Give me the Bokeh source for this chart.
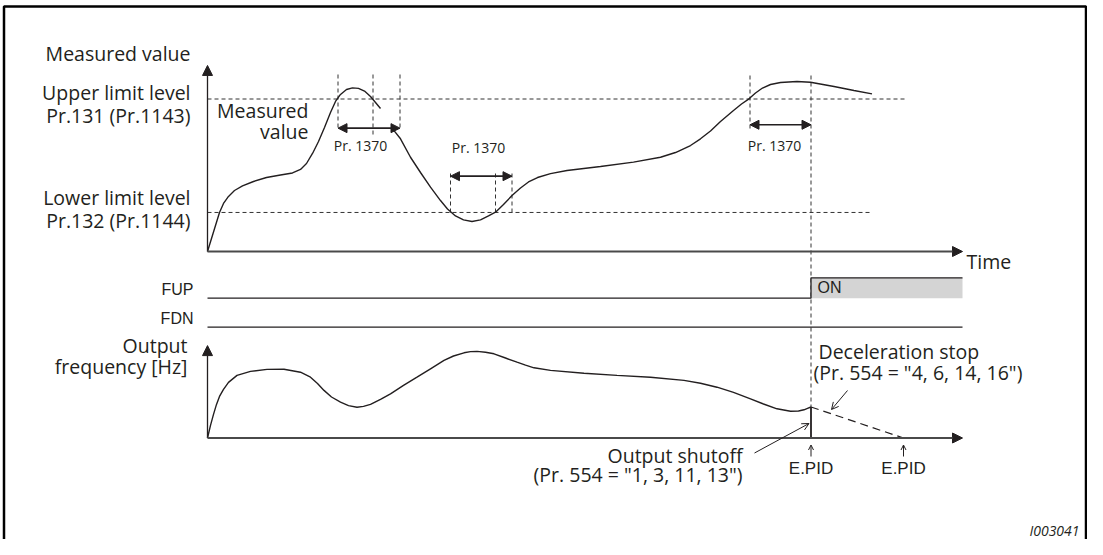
from bokeh.plotting import figure
from bokeh.models import Range1d, Arrow, NormalHead, OpenHead
from bokeh.core.properties import value
from bokeh.embed import file_html
from bokeh.resources import INLINE

NaN = float("nan")

# ---------------- data ----------------
# measured value (time units, % of scale); NaN = gap behind the Pr.1370 arrow
t_meas = [0, 0.8, 1.6, 2.4, 3.2, 4.2, 5.4, 7.0, 9.2, 11.8,
          14.6, 17.0, 18.6, 19.8, 21.0, 22.2, 23.4, 24.6, 25.6, 26.6,
          27.8, 29.0, 30.2, 31.4, 32.6, 33.6, 34.6, NaN,
          37.3, 38.6, 40.6, 42.6, 44.6, 46.6, 48.0, 49.6, 51.2, 52.9,
          54.6, 56.2, 57.6, 59.2, 60.9, 62.6, 64.2, 66.0, 68.6, 71.9,
          78.6, 85.2, 90.6, 93.6, 96.6, 98.6, 100.6, 102.6, 105.2, 106.8,
          108.3, 109.6, 111.0, 112.6, 114.6, 117.9, 120.6, 125.3, 129.3, 132.9]
v_meas = [0, 8.5, 17.0, 25.6, 31.5, 36.1, 40.0, 43.0, 45.9, 48.5,
          50.2, 51.5, 53.8, 57.7, 64.3, 72.1, 81.3, 91.1, 98.4, 103.0,
          106.2, 107.3, 107.0, 105.2, 101.6, 97.7, 93.8, NaN,
          79.3, 73.9, 61.8, 51.8, 42.2, 33.4, 27.9, 23.3, 20.7, 19.7,
          20.7, 23.3, 25.8, 30.8, 36.7, 41.6, 45.6, 48.5, 51.1, 53.1,
          55.7, 58.6, 61.8, 64.9, 69.5, 73.9, 79.0, 85.2, 92.5, 96.7,
          100.1, 103.9, 107.2, 109.5, 110.8, 111.5, 111.0, 108.2, 105.6, 103.4]

# output frequency [Hz]
t_freq = [0, 0.6, 1.2, 1.8, 2.4, 3.2, 4.2, 5.9, 8.6, 11.9,
          15.3, 18.6, 20.6, 22.0, 23.3, 24.8, 26.6, 28.2, 29.9, 31.2,
          32.6, 34.6, 36.6, 39.2, 41.9, 44.6, 47.3, 49.2, 51.3, 52.6,
          53.9, 55.6, 57.3, 59.6, 61.9, 63.6, 65.3, 68.6, 75.3, 81.9,
          88.6, 95.3, 98.6, 101.9, 105.2, 108.6, 111.2, 113.9, 116.6, 118.2,
          119.3, 120.0, 120.7]
f_freq = [0, 6.3, 11.8, 16.8, 20.8, 24.3, 27.8, 31.3, 33.3, 34.3,
          34.4, 32.9, 30.4, 27.3, 23.8, 20.5, 17.9, 16.2, 15.4, 15.8,
          16.8, 19.3, 22.1, 26.3, 30.4, 34.6, 38.8, 41.0, 42.6, 43.2,
          43.3, 42.9, 42.1, 40.0, 37.9, 36.4, 35.1, 33.8, 32.4, 31.3,
          30.4, 28.8, 27.4, 25.4, 22.8, 19.6, 17.0, 14.6, 13.4, 13.5,
          14.1, 14.8, 15.5]

upper_limit = 100.0
lower_limit = 25.6
upper_line_end = 139.6
lower_line_end = 132.6

pr1370_start = [26.1, 48.6, 108.5]      # limit crossed
pr1370_back = [33.1, 57.6]              # back inside the limits
pr1370_end = [38.5, 60.9, 120.7]        # Pr.1370 elapsed
pr1370_level = [80.9, 49.4, 83.1]

t_trip = 120.7       # E.PID (output shutoff)
f_trip = 15.5
t_stop = 139.2       # E.PID (deceleration stop)
t_end = 151.0        # end of time axes
mv_axis_top = 122.0
hz_axis_top = 46.2

# ---------------- layout ----------------
W, H = 1087, 539
X0, X1, Y0, Y1 = 0, 1087, 0, 539
T0_PX, PX_T = 207.0, 5.0
MV0_PX, PX_MV = 251.0, 1.525
HZ0_PX, PX_HZ = 437.5, 2.0
FUP_LO, FUP_HI, FDN_Y = 297.7, 277.3, 326.7

INK = "#231f20"
AX = "#4a4a4a"
SANS = value("Open Sans")
ARIAL = value("Liberation Sans")

p = figure(width=W, height=H, x_range=Range1d(X0, X1), y_range=Range1d(Y1, Y0),
           output_backend="svg", toolbar_location=None, min_border=0,
           x_axis_type=None, y_axis_type=None, outline_line_color=None,
           background_fill_color="white", border_fill_color="white")
p.extra_x_ranges = {"t": Range1d((X0 - T0_PX) / PX_T, (X1 - T0_PX) / PX_T)}
p.extra_y_ranges = {
    "mv": Range1d((MV0_PX - Y1) / PX_MV, (MV0_PX - Y0) / PX_MV),
    "hz": Range1d((HZ0_PX - Y1) / PX_HZ, (HZ0_PX - Y0) / PX_HZ),
}

# frame
p.line([3.5, 3.5, 1085.5, 1085.5], [539, 6, 6, 539], line_color="black", line_width=2.5)

# ---- measured value panel ----
p.segment(x0=[0, 0], y0=[upper_limit, lower_limit],
          x1=[upper_line_end, lower_line_end], y1=[upper_limit, lower_limit],
          x_range_name="t", y_range_name="mv",
          line_color="#333333", line_width=1, line_dash="4 3")

vx = pr1370_start[:1] + pr1370_back[:1] + pr1370_end[:1] + \
     pr1370_start[1:2] + pr1370_back[1:2] + pr1370_end[1:2] + \
     pr1370_start[2:3] + [t_trip]
vy0 = [74, 74, 74, 173, 173, 173, 75, 75]
vy1 = [130, 137, 130, 213, 213, 215, 128, 407]
p.segment(x0=vx, y0=vy0, x1=vx, y1=vy1, x_range_name="t",
          line_color="#333333", line_width=1, line_dash="4 3")

p.line(t_meas, v_meas, x_range_name="t", y_range_name="mv",
       line_color=INK, line_width=1.4)

for s, e, lv in zip(pr1370_start, pr1370_end, pr1370_level):
    p.add_layout(Arrow(start=NormalHead(size=9, fill_color=INK, line_color=INK),
                       end=NormalHead(size=9, fill_color=INK, line_color=INK),
                       x_start=s, y_start=lv, x_end=e, y_end=lv,
                       x_range_name="t", y_range_name="mv",
                       line_color=INK, line_width=1.6))

# axes of the measured panel
p.add_layout(Arrow(end=NormalHead(size=10, fill_color=INK, line_color=INK),
                   x_start=0, y_start=0, x_end=0, y_end=mv_axis_top,
                   x_range_name="t", y_range_name="mv", line_color=INK, line_width=1.3))
p.add_layout(Arrow(end=NormalHead(size=10, fill_color=INK, line_color=INK),
                   x_start=0, y_start=0, x_end=t_end, y_end=0,
                   x_range_name="t", y_range_name="mv", line_color=AX, line_width=2))

# ---- FUP / FDN ----
p.quad(left=[t_trip], right=[t_end], top=[FUP_HI], bottom=[FUP_LO],
       x_range_name="t", fill_color="#d4d4d4", line_color=None)
p.line([0, t_trip, t_trip, t_end], [FUP_LO, FUP_LO, FUP_HI, FUP_HI],
       x_range_name="t", line_color=INK, line_width=1.3)
p.line([0, t_end], [FDN_Y, FDN_Y], x_range_name="t", line_color=INK, line_width=1.3)

# ---- output frequency panel ----
p.line(t_freq, f_freq, x_range_name="t", y_range_name="hz",
       line_color=INK, line_width=1.4)
p.segment(x0=[t_trip], y0=[f_trip], x1=[t_trip], y1=[0],
          x_range_name="t", y_range_name="hz", line_color=INK, line_width=1.8)
p.line([t_trip, t_stop], [f_trip, 0], x_range_name="t", y_range_name="hz",
       line_color=INK, line_width=1.2, line_dash="8 5")

p.add_layout(Arrow(end=NormalHead(size=10, fill_color=INK, line_color=INK),
                   x_start=0, y_start=0, x_end=0, y_end=hz_axis_top,
                   x_range_name="t", y_range_name="hz", line_color=INK, line_width=1.3))
p.add_layout(Arrow(end=NormalHead(size=10, fill_color=INK, line_color=INK),
                   x_start=0, y_start=0, x_end=t_end, y_end=0,
                   x_range_name="t", y_range_name="hz", line_color=AX, line_width=2))

# E.PID markers
for tt in (t_trip, t_stop):
    p.add_layout(Arrow(end=OpenHead(size=5, line_color=INK, line_width=1),
                       x_start=tt, y_start=456, x_end=tt, y_end=444.5,
                       x_range_name="t", line_color=INK, line_width=1))

# pointer arrows
p.add_layout(Arrow(end=OpenHead(size=7, line_color=INK, line_width=1),
                   x_start=754, y_start=452.5, x_end=808.5, y_end=423,
                   line_color=INK, line_width=1))
p.add_layout(Arrow(end=OpenHead(size=7, line_color=INK, line_width=1),
                   x_start=847, y_start=390, x_end=831, y_end=409,
                   line_color=INK, line_width=1))

# ---------------- texts ----------------
p.text(x=[190] * 5, y=[53, 92, 115, 197, 220],
       text=["Measured value", "Upper limit level", "Pr.131 (Pr.1143)",
             "Lower limit level", "Pr.132 (Pr.1144)"],
       text_font=SANS, text_font_size="19.5px", text_color=INK,
       text_align="right", text_baseline="middle")
p.text(x=[308, 308, 187, 187, 742, 742],
       y=[110, 130.5, 345, 366, 455, 474.3],
       text=["Measured", "value", "Output", "frequency [Hz]",
             "Output shutoff", '(Pr. 554 = "1, 3, 11, 13")'],
       text_font=SANS, text_font_size="19.5px", text_color=INK,
       text_align="right", text_baseline="middle")
p.text(x=[966, 818, 813], y=[261, 350.7, 371.7],
       text=["Time", "Deceleration stop", '(Pr. 554 = "4, 6, 14, 16")'],
       text_font=SANS, text_font_size="19.5px", text_color=INK,
       text_align="left", text_baseline="middle")
p.text(x=[360, 478, 774], y=[145, 147, 145], text=["Pr. 1370"] * 3,
       text_font=SANS, text_font_size="14px", text_color=INK,
       text_align="center", text_baseline="middle")
p.text(x=[193, 193], y=[289.3, 318.3], text=["FUP", "FDN"],
       text_font=ARIAL, text_font_size="16px", text_color=INK,
       text_align="right", text_baseline="middle")
p.text(x=[817], y=[286.7], text=["ON"],
       text_font=ARIAL, text_font_size="16px", text_color=INK,
       text_align="left", text_baseline="middle")
p.text(x=[t_trip, t_stop], y=[468.3, 468.3], text=["E.PID", "E.PID"],
       x_range_name="t", text_font=ARIAL, text_font_size="17px", text_color=INK,
       text_align="center", text_baseline="middle")
p.text(x=[1079], y=[530], text=["I003041"],
       text_font=SANS, text_font_size="14px", text_font_style="italic",
       text_color=INK, text_align="right", text_baseline="middle")

open("out.html", "w").write(file_html(p, INLINE))
